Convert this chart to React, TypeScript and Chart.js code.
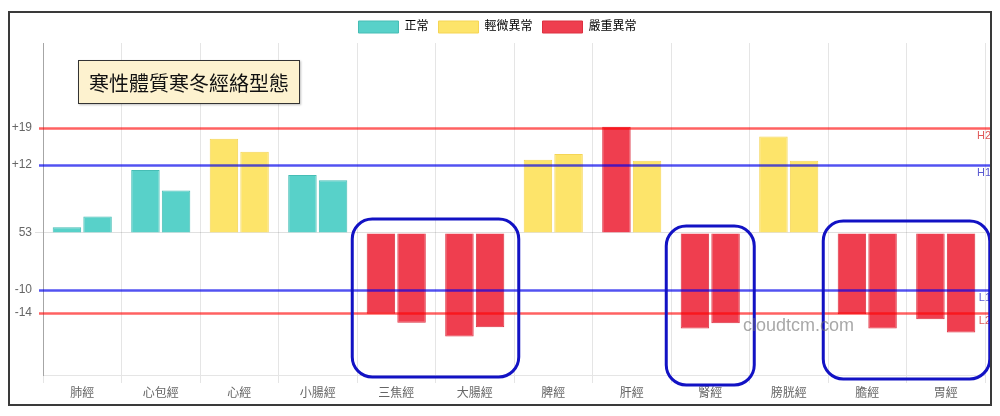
import React, { useEffect, useRef } from "react";
import { Chart, registerables } from "chart.js";

Chart.register(...registerables);

const categories = ["肺經", "心包經", "心經", "小腸經", "三焦經", "大腸經", "脾經", "肝經", "腎經", "膀胱經", "膽經", "胃經"];
const leftValues = [1, 11.1, 16.6, 10.2, -14.2, -18.2, 12.9, 18.7, -16.8, 17.0, -14.3, -15.2];
const rightValues = [2.9, 7.5, 14.3, 9.3, -15.8, -16.6, 13.9, 12.7, -15.9, 12.7, -16.8, -17.5];
// 0 = 正常, 1 = 輕微異常, 2 = 嚴重異常
const leftStatus = [0, 0, 1, 0, 2, 2, 1, 2, 2, 1, 2, 2];
const rightStatus = [0, 0, 1, 0, 2, 2, 1, 1, 2, 1, 2, 2];
const statusNames = ["正常", "輕微異常", "嚴重異常"];
const statusFill = ["#58d1c9", "#fde46a", "#ef3e4f"];
const statusBorder = ["#46bdb5", "#f5d555", "#dc3040"];

const tickValues = [18.5, 12, 0, -10, -14];
const tickLabels = ["+19", "+12", "53", "-10", "-14"];

const refValues = [18.5, 12, -10, -14];
const refNames = ["H2", "H1", "L1", "L2"];
const refColors = ["rgba(255,0,0,0.62)", "rgba(0,0,235,0.68)", "rgba(0,0,235,0.68)", "rgba(255,0,0,0.62)"];
const refTextColors = ["#e05a5a", "#5a5ad0", "#5a5ad0", "#e05a5a"];

const highlightGroups = [[4, 5], [8], [10, 11]];
const highlightTopPad = [14, 7, 12];
const highlightBottomPad = [2, 10, 4];

const Y_MIN = -25;
const Y_MAX = 33.45;

const overlayPlugin = {
  id: "overlay",
  afterDatasetsDraw(chart: any) {
    const { ctx, chartArea, scales } = chart;
    const y = scales.y;
    const x = scales.x;
    ctx.save();
    refValues.forEach((v, i) => {
      const py = Math.round(y.getPixelForValue(v)) + 0.5;
      ctx.strokeStyle = refColors[i];
      ctx.lineWidth = 2.5;
      ctx.beginPath();
      ctx.moveTo(chartArea.left - 4, py);
      ctx.lineTo(chart.width, py);
      ctx.stroke();
      ctx.fillStyle = refTextColors[i];
      ctx.font = "11px 'Liberation Sans', sans-serif";
      ctx.textAlign = "right";
      ctx.textBaseline = "middle";
      ctx.fillText(refNames[i], chart.width + 1, py + 7);
    });
    const zeroY = y.getPixelForValue(0);
    ctx.strokeStyle = "#1212c4";
    ctx.lineWidth = 3;
    highlightGroups.forEach((g, gi) => {
      const x0 = x.getPixelForValue(g[0]) - 44;
      const x1 = x.getPixelForValue(g[g.length - 1]) + 44;
      const y0 = zeroY - highlightTopPad[gi];
      const y1 = chartArea.bottom + highlightBottomPad[gi];
      const r = 20;
      ctx.beginPath();
      ctx.moveTo(x0 + r, y0);
      ctx.lineTo(x1 - r, y0);
      ctx.arcTo(x1, y0, x1, y0 + r, r);
      ctx.lineTo(x1, y1 - r);
      ctx.arcTo(x1, y1, x1 - r, y1, r);
      ctx.lineTo(x0 + r, y1);
      ctx.arcTo(x0, y1, x0, y1 - r, r);
      ctx.lineTo(x0, y0 + r);
      ctx.arcTo(x0, y0, x0 + r, y0, r);
      ctx.closePath();
      ctx.stroke();
    });
    ctx.restore();
  },
};

export default function App() {
  const ref = useRef<HTMLCanvasElement>(null);
  useEffect(() => {
    if (!ref.current) return;
    Chart.defaults.font.family = "'Liberation Sans', 'Noto Sans CJK TC', sans-serif";
    Chart.defaults.color = "#666";
    const chart = new Chart(ref.current, {
      type: "bar",
      data: {
        labels: categories,
        datasets: [
          {
            label: "left",
            data: leftValues,
            backgroundColor: leftStatus.map((s) => statusFill[s]),
            borderColor: leftStatus.map((s) => statusBorder[s]),
            borderWidth: 1,
            categoryPercentage: 0.78,
            barPercentage: 0.93,
          },
          {
            label: "right",
            data: rightValues,
            backgroundColor: rightStatus.map((s) => statusFill[s]),
            borderColor: rightStatus.map((s) => statusBorder[s]),
            borderWidth: 1,
            categoryPercentage: 0.78,
            barPercentage: 0.93,
          },
        ],
      },
      options: {
        responsive: false,
        animation: false,
        layout: { padding: { right: 5 } },
        plugins: {
          tooltip: { enabled: false },
          legend: {
            position: "top",
            labels: {
              font: { size: 12 },
              color: "#666",
              boxWidth: 40,
              padding: 10,
              generateLabels: () =>
                statusNames.map((n, i) => ({
                  text: n,
                  fillStyle: statusFill[i],
                  strokeStyle: statusBorder[i],
                  lineWidth: 1,
                  hidden: false,
                  datasetIndex: 0,
                })),
            },
          },
        },
        scales: {
          x: {
            grid: { color: "rgba(0,0,0,0.1)", tickLength: 8, offset: true },
            border: { color: "rgba(0,0,0,0.1)" },
            ticks: { font: { size: 12 }, color: "#666", padding: 3, maxRotation: 0 },
            afterFit: (s: any) => {
              s.height = 29;
            },
          },
          y: {
            min: Y_MIN,
            max: Y_MAX,
            afterBuildTicks: (s: any) => {
              s.ticks = tickValues.map((v) => ({ value: v }));
            },
            afterFit: (s: any) => {
              s.width = 33;
            },
            grid: {
              tickLength: 8,
              color: (c: any) => (c.tick && c.tick.value === 0 ? "rgba(0,0,0,0.12)" : "rgba(0,0,0,0)"),
            },
            border: { color: "rgba(0,0,0,0.28)" },
            ticks: {
              font: { size: 12 },
              color: "#666",
              padding: 3,
              autoSkip: false,
              callback: (v: any) => {
                const i = tickValues.indexOf(Number(v));
                return i >= 0 ? tickLabels[i] : "";
              },
            },
          },
        },
      },
      plugins: [overlayPlugin],
    });
    return () => chart.destroy();
  }, []);

  return (
    <div style={{ paddingTop: 3 }}>
      <div
        style={{
          position: "relative",
          width: 984,
          height: 395,
          boxSizing: "border-box",
          border: "2px solid #3a3a3a",
          background: "#fff",
        }}
      >
        <canvas ref={ref} width={980} height={393} style={{ position: "absolute", left: 0, top: -2, width: 980, height: 393 }} />
        <div
          style={{
            position: "absolute",
            left: 68,
            top: 47,
            width: 222,
            height: 44,
            boxSizing: "border-box",
            border: "1.5px solid #333",
            background: "#fdf2cf",
            display: "flex",
            alignItems: "center",
            justifyContent: "center",
            fontFamily: "'Noto Sans CJK TC', sans-serif",
            fontSize: 20,
            color: "#111",
            boxShadow: "1px 1px 2px rgba(0,0,0,0.25)",
          }}
        >
          寒性體質寒冬經絡型態
        </div>
        <div
          style={{
            position: "absolute",
            left: 733,
            top: 302,
            fontFamily: "'Liberation Sans', sans-serif",
            fontSize: 18,
            color: "rgba(110,110,110,0.6)",
            whiteSpace: "nowrap",
            pointerEvents: "none",
          }}
        >
          cloudtcm.com
        </div>
      </div>
    </div>
  );
}
